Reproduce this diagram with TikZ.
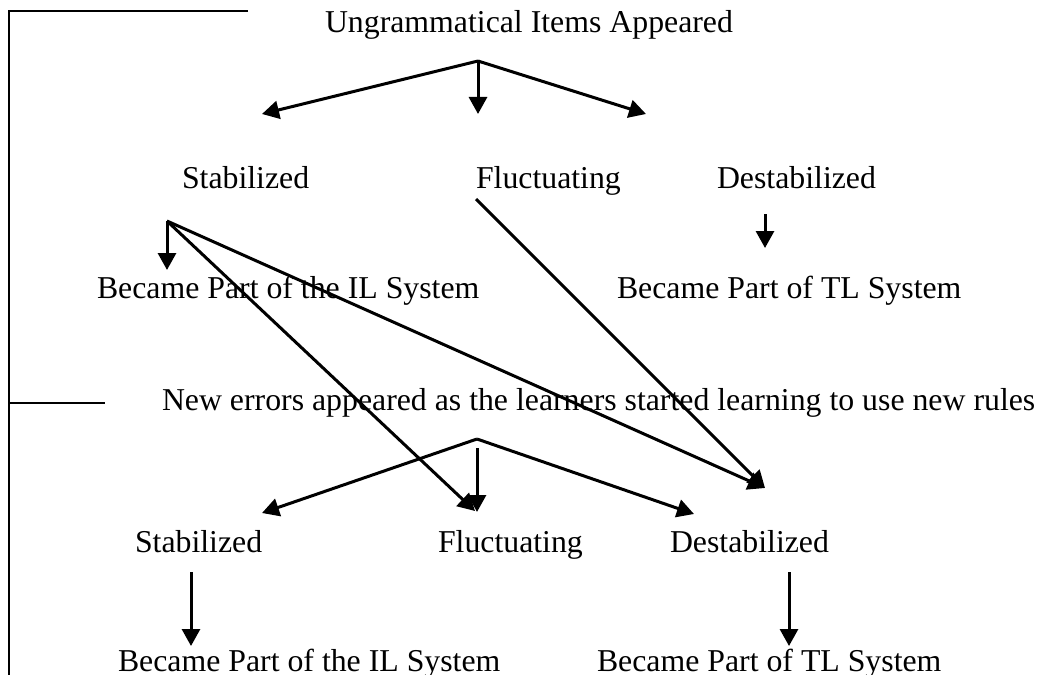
\documentclass[tikz,border=0pt]{standalone}
\usepackage{fontspec}
\setmainfont{Liberation Serif}
\usetikzlibrary{arrows.meta}
\tikzset{
  lbl/.style={anchor=base west, inner sep=0pt, outer sep=0pt, font=\fontsize{31.8}{38}\selectfont},
  arr/.style={line width=3pt, -{Triangle[length=17pt,width=18pt]}},
  brk/.style={line width=2pt},
}
\begin{document}
\begin{tikzpicture}[x=1pt,y=-1pt]
\useasboundingbox (0,0) rectangle (1048,674);
% bracket
\coordinate (bt) at (248,11);
\coordinate (tl) at (9,11);
\coordinate (ml) at (9,403);
\coordinate (mr) at (105,403);
\coordinate (bl) at (9,676);
\draw[brk] (bt) -- (tl) -- (bl);
\draw[brk] (ml) -- (mr);
% texts
\node[lbl] (title) at (325,33) {Ungrammatical Items Appeared};
\node[lbl] (s1) at (182,188) {Stabilized};
\node[lbl] (f1) at (476,188) {Fluctuating};
\node[lbl] (d1) at (717,188) {Destabilized};
\node[lbl] (il1) at (97,298) {Became Part of the IL System};
\node[lbl] (tl1) at (617,298) {Became Part of TL System};
\node[lbl] (ne) at (162,410) {New errors appeared as the learners started learning to use new rules};
\node[lbl] (s2) at (135,552) {Stabilized};
\node[lbl] (f2) at (438,552) {Fluctuating};
\node[lbl] (d2) at (670,552) {Destabilized};
\node[lbl] (il2) at (118,671) {Became Part of the IL System};
\node[lbl] (tl2) at (597,671) {Became Part of TL System};
% connector points
\coordinate (fk1) at (478,61);
\coordinate (s1t) at (262,114);
\coordinate (f1t) at (478,114);
\coordinate (d1t) at (646,114);
\coordinate (s1b) at (167,221);
\coordinate (il1t) at (167,270);
\coordinate (f1b) at (476,199);
\coordinate (d1b) at (765,214);
\coordinate (tl1t) at (765,248);
\coordinate (fk2) at (477,439);
\coordinate (fk2m) at (477,448);
\coordinate (s2t) at (262,513);
\coordinate (f2t) at (477,512);
\coordinate (f2x) at (475,511);
\coordinate (d2t) at (694,514);
\coordinate (d2x) at (765,488);
\coordinate (s2b) at (191,572);
\coordinate (il2t) at (191,646);
\coordinate (d2b) at (789,572);
\coordinate (tl2t) at (789,646);
% arrows
\draw[arr] (fk1) -- (s1t);
\draw[arr] (fk1) -- (f1t);
\draw[arr] (fk1) -- (d1t);
\draw[arr] (s1b) -- (il1t);
\draw[arr] (s1b) -- (f2x);
\draw[arr] (s1b) -- (d2x);
\draw[arr] (f1b) -- (d2x);
\draw[arr] (d1b) -- (tl1t);
\draw[arr] (fk2) -- (s2t);
\draw[arr] (fk2m) -- (f2t);
\draw[arr] (fk2) -- (d2t);
\draw[arr] (s2b) -- (il2t);
\draw[arr] (d2b) -- (tl2t);
\end{tikzpicture}
\end{document}
